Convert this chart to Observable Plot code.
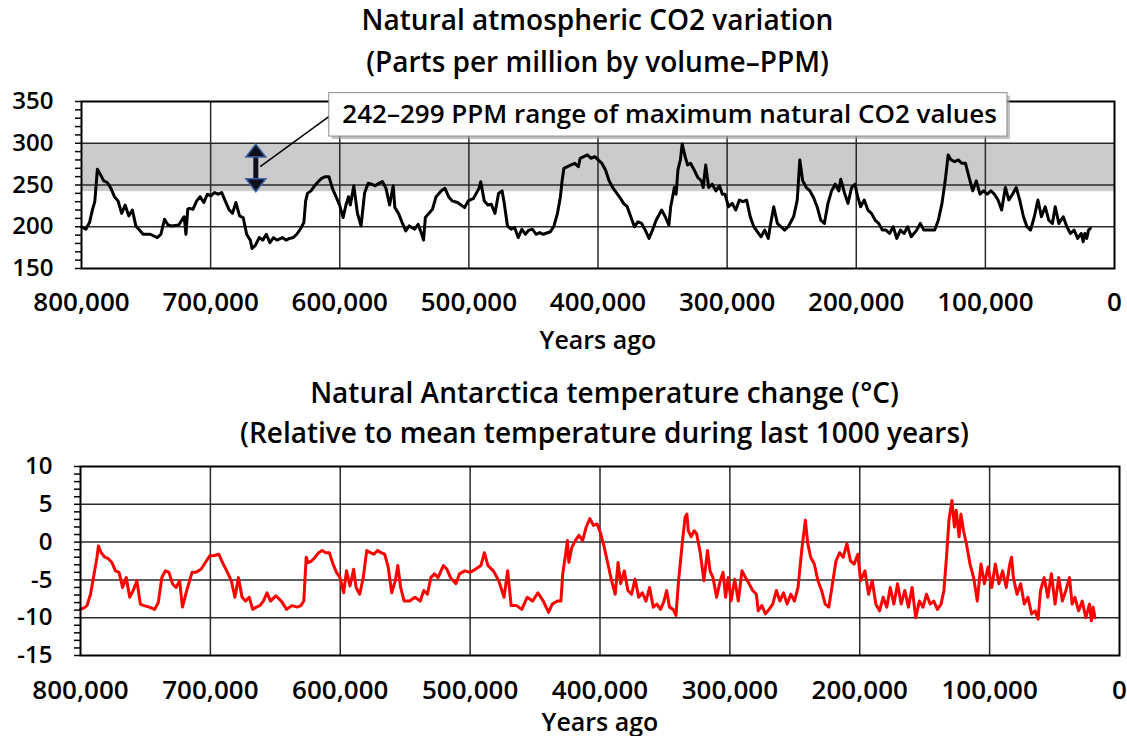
<!DOCTYPE html>
<html>
<head>
<meta charset="utf-8">
<script src="https://cdn.jsdelivr.net/npm/d3@7"></script>
<script src="https://cdn.jsdelivr.net/npm/@observablehq/plot@0.6"></script>
<style>
  html, body { margin: 0; padding: 0; background: #fff; }
  body { width: 1127px; height: 736px; position: relative; overflow: hidden; font-family: "Open Sans", sans-serif; }
  .title { position: absolute; left: 0; width: 1127px; text-align: center; font-weight: 600; font-size: 28px; color: #000; box-sizing: border-box; }
  .chart { position: absolute; left: 0; }
</style>
</head>
<body>
<div class="title" id="t1" style="top:-2px; line-height:42px; padding-left:68px;">Natural atmospheric CO2 variation<br>(Parts per million by volume–PPM)</div>
<div class="chart" id="c1" style="top:85px;"></div>
<div class="title" id="t2" style="top:372px; line-height:40px; padding-left:82px;">Natural Antarctica temperature change (°C)<br>(Relative to mean temperature during last 1000 years)</div>
<div class="chart" id="c2" style="top:450px;"></div>
<script>
// ---------- data (years ago in thousands) ----------
const co2Kyr = [800,796.6,793.8,791.6,789.7,787.7,785.5,782.8,780,777.2,774.5,771.7,768.9,766.2,763.4,760.6,757.9,755.1,752.3,746.8,741.3,738.5,735.7,733,730.2,724.7,721.9,720.5,719.1,717.7,716.4,713.6,710.8,708.1,705.3,702.5,699.8,697,694.2,691.4,688.7,685.9,683.1,680.4,677.6,674.8,672.1,669.3,667.9,665.2,662.4,659.6,656.9,654.1,651.3,648.6,644.4,641.6,638.9,636.1,633.3,630.6,627.8,626.4,625,622.3,619.5,616.7,614,611.2,608.4,605.7,602.9,600.1,597.4,595.2,593.2,591.8,589.1,586.3,583.5,580.8,578,575.2,572.5,569.7,566.9,564.2,561.4,558.6,557.3,554.5,551.7,548.9,546.2,542,539.3,536.5,535.1,533.7,531,528.2,525.4,521.3,518.5,515.7,513,508.8,503.3,500.5,496.4,492.2,490.8,488.1,485.3,482.6,479.8,477,474.3,472.9,470.1,467.3,464.6,461.8,459,456.3,453.5,450.7,448,445.2,442.4,436.9,434.1,431.4,429.2,427.8,426.4,423.6,420.8,418,415.2,413.8,411,408.2,405.4,402.6,399.8,397,394.2,391.4,388.6,385.8,383,380.2,377.4,374.6,371.8,369,366.2,363.4,360.5,357.8,354.9,350.7,347.9,345.1,343.7,342.3,340.9,339.5,338.1,336.2,334.8,332.5,330.6,328.3,325.5,322.7,319.9,318.5,316.6,314.3,311.5,308.7,305.9,303.7,301.7,298.9,296.1,293.3,290.5,287.7,284.9,282.1,279.3,276.5,273.7,270.9,268.1,266.7,263.9,261.1,258.3,255.5,252.7,248.5,245.7,243.7,241.5,238.7,235.9,233.1,230.3,227.5,224.7,221.9,219.1,216.3,213.5,212,209.2,206.4,203.6,200.8,199.4,196.6,193.8,191,188.2,185.4,182.6,179.8,177,174.2,171.4,168.6,165.8,163,160.2,157.4,153.2,150.4,147.6,143.4,139.2,136.4,133.6,130.8,128.8,126.6,123.8,121,118.2,115.4,112.6,109.8,107,104.2,101.4,98.6,95.8,93,90.2,87.4,84.5,81.8,79,76.1,73.4,70.5,67.8,65,62.1,59.3,56.6,53.7,50.9,48.1,45.9,43.1,39.7,36.9,34.1,31.3,28.5,25.7,24.3,22.9,21.5,20.1,18.7];
const co2Ppm = [200,197,205,220,230,269,263,255,253,246,236,231,216,226,213,220,201,196,191,191,187,191,209,202,201,202,209,212,191,221,222,221,231,236,229,239,237,241,239,241,231,221,216,229,213,211,191,184,174,178,187,184,191,181,187,184,187,184,186,187,191,197,205,231,240,243,249,254,258,260,260,246,236,226,211,226,236,226,249,216,201,240,252,251,249,252,254,246,226,249,223,216,205,195,201,197,203,191,184,211,216,221,236,243,246,236,231,229,223,231,234,246,254,231,226,227,216,240,243,231,201,197,199,187,197,191,196,197,191,193,191,194,201,216,235,255,270,272,274,276,272,282,284,286,282,284,280,276,268,255,247,241,235,228,224,212,200,206,204,196,186,196,208,220,212,202,224,235,247,239,268,280,299,284,274,276,268,259,255,247,274,247,251,243,249,239,239,224,228,220,232,230,232,212,200,194,188,196,186,200,224,204,200,196,200,212,232,280,255,247,243,235,224,208,204,228,243,251,243,257,241,228,247,251,239,224,232,220,216,208,204,196,196,192,200,186,196,192,200,188,196,204,196,196,196,208,228,259,286,280,278,280,276,276,259,243,255,239,243,239,243,239,232,220,247,232,239,247,232,212,200,196,212,232,212,224,208,204,224,204,212,200,192,196,186,192,182,192,186,196,198];

const tempKyr = [800,797.2,795,792.3,789.5,787.3,786.2,784.1,781.3,778.6,775.8,773.1,770.3,767.6,764.8,762.1,759.4,756.6,753.9,751.1,747,742.9,740.1,737.4,734.6,731.9,729.2,726.4,723.7,721.5,718.2,714.1,711.3,707.2,703.1,700.3,697.6,693.5,690.7,688,683.9,681.1,678.4,675.6,672.9,670.1,667.4,664.6,661.9,659.2,656.4,653.7,649.6,645.4,641.3,637.2,633.1,630.3,628.1,626.2,624.8,622.1,619.4,616.6,613.9,611.1,608.4,605.6,602.9,600.2,597.4,595.2,592.5,589.7,587.8,585,582.3,579.6,576.8,574.1,571.3,568.6,565.8,563.1,560.4,557.6,555.7,553.5,550.8,546.6,542.5,538.4,535.7,532.9,530.2,527.4,524.7,520.6,517.8,515.1,510.9,508.2,504.1,500,495.9,491.7,489,486.3,482.1,478,473.9,471.1,468.4,464.3,460.2,456.1,451.9,447.8,443.7,439.6,436.8,432.7,430.1,428.7,426.8,425.1,424,421.7,419,416.2,413.4,410.6,407.8,405,402.2,399.4,396.7,393.9,391.1,388.3,386.1,384.1,381.3,378.5,375.7,373,370.2,367.4,364.6,361.8,359,356.2,353.4,350.7,348.7,346.5,343.7,341.5,339.5,336.7,334.5,333.1,332,329.8,327.5,325.6,322.8,320,317.2,315.3,313,310.2,307.4,305.2,303.3,301.3,299.1,296.3,293.5,290.7,287.9,285.2,282.4,279.6,278.2,275.4,272.6,269.8,267,264.2,261.5,258.7,255.9,253.1,250.3,247.5,244.7,241.9,240,237.8,235,232.2,229.4,226.6,223.8,221,218.3,215.5,212.7,209.9,207.1,204.3,201.5,199.3,196,193.2,190.4,187.6,184.8,182,179.2,176.5,173.7,170.9,168.1,165.3,162.5,159.7,156.9,154.1,151.3,148.6,145.8,143,140.2,137.4,135.2,133.2,131.3,129,127.1,125.7,123.5,122.1,120.1,117.9,115.1,112.3,109.5,106.7,104,101.2,98.4,95.6,92.8,90,87.2,84.5,83.1,81.7,78.9,76.1,73.3,70.5,67.7,64.9,62.7,60.8,58,55.2,52.4,49.6,46.8,44,41.3,38.5,36.5,34.3,31.5,28.7,25.9,23.1,21.7,20.3,18.9];
const tempC = [-8.9,-8.7,-8.4,-6.9,-4.2,-2.0,-0.5,-1.4,-2.0,-2.2,-2.7,-3.8,-4.0,-6.0,-4.7,-7.3,-6.4,-5.1,-8.2,-8.4,-8.6,-8.9,-8.0,-4.7,-3.8,-4.0,-5.5,-6.0,-5.1,-8.6,-6.4,-4.0,-4.0,-3.6,-2.5,-1.8,-1.8,-1.6,-2.7,-3.6,-5.1,-7.3,-4.7,-7.3,-7.8,-7.3,-8.9,-8.6,-8.4,-7.8,-6.7,-7.8,-7.1,-7.8,-8.9,-8.4,-8.6,-8.4,-7.8,-2.0,-2.7,-2.5,-2.0,-1.4,-1.1,-1.4,-1.4,-2.9,-4.0,-4.7,-6.7,-3.8,-5.8,-3.6,-6.0,-6.9,-4.7,-1.1,-1.4,-1.6,-1.1,-1.4,-1.6,-3.3,-6.7,-5.1,-3.1,-6.0,-7.8,-7.8,-7.3,-7.8,-6.4,-6.9,-4.7,-4.2,-4.7,-3.1,-3.6,-4.7,-5.5,-4.2,-3.8,-4.0,-3.6,-3.1,-1.4,-3.1,-3.8,-5.1,-7.3,-3.8,-8.4,-8.4,-8.9,-7.3,-7.8,-6.7,-7.8,-9.3,-8.2,-7.8,-7.8,-4.2,-2.0,0.2,-2.7,-0.7,0.2,0.9,0.2,2.0,3.1,2.2,2.4,1.1,-0.7,-2.9,-5.1,-6.9,-2.7,-5.5,-3.8,-6.4,-6.9,-4.9,-7.3,-6.7,-7.8,-6.0,-8.6,-8.2,-8.9,-7.8,-6.4,-8.6,-8.9,-9.7,-5.1,-0.2,3.3,3.7,1.5,0.7,1.5,1.1,-1.4,-5.1,-1.1,-3.8,-4.7,-7.3,-5.1,-4.0,-7.3,-4.7,-7.8,-4.9,-7.8,-3.8,-4.7,-5.5,-6.4,-6.9,-9.1,-8.4,-9.5,-8.9,-8.2,-6.4,-7.8,-6.7,-8.2,-6.9,-7.8,-6.0,-1.1,2.9,-0.2,-2.0,-2.9,-5.1,-6.4,-8.2,-8.6,-5.5,-2.5,-1.4,-2.0,-0.2,-2.5,-2.9,-1.6,-5.1,-3.8,-6.9,-5.1,-8.2,-9.1,-7.3,-8.6,-6.0,-8.2,-5.5,-8.2,-6.4,-8.6,-6.0,-10.0,-7.8,-8.6,-6.9,-8.2,-7.8,-8.9,-8.2,-6.4,-2.0,2.9,5.5,2.0,4.2,0.7,3.7,1.5,-0.2,-2.9,-4.7,-7.8,-2.9,-5.5,-3.3,-6.0,-2.9,-5.5,-3.8,-6.0,-2.9,-2.0,-4.7,-6.9,-5.5,-8.2,-7.3,-9.5,-9.1,-10.2,-6.4,-4.7,-7.3,-4.2,-8.2,-4.7,-7.8,-6.4,-4.7,-8.2,-7.3,-9.1,-7.8,-10.0,-8.2,-10.4,-8.6,-10.0];

const xTicks = [800000,700000,600000,500000,400000,300000,200000,100000,0];
const co2Ticks = [150,200,250,300,350];
const tempTicks = [10,5,0,-5,-10,-15];
const bandRange = [242, 299];
const noteText = "242–299 PPM range of maximum natural CO2 values";
const axisTitle = "Years ago";

const co2Data = co2Kyr.map((k, i) => ({year: k * 1000, ppm: co2Ppm[i]}));
const tempData = tempKyr.map((k, i) => ({year: k * 1000, t: tempC[i]}));

const font = {fontFamily: "'Open Sans', sans-serif", fontSize: "24px", fontWeight: "600", color: "#000", background: "#fff", overflow: "visible"};
const fmt = d3.format(",");
const gridColor = "#2a2a2a";

// arrowhead symbols (tip at origin)
const headUp = {draw(ctx) { ctx.moveTo(0, 0); ctx.lineTo(10, 13); ctx.lineTo(-10, 13); ctx.closePath(); }};
const headDown = {draw(ctx) { ctx.moveTo(0, 0); ctx.lineTo(10, -13); ctx.lineTo(-10, -13); ctx.closePath(); }};

// ---------- CO2 chart ----------
const arrowYear = 665000;
const c1 = Plot.plot({
  width: 1127, height: 275,
  marginLeft: 81, marginRight: 13, marginTop: 16, marginBottom: 92,
  style: font,
  x: {domain: [800000, 0], axis: null},
  y: {domain: [150, 350], axis: null},
  marks: [
    Plot.rect([bandRange], {x1: 800000, x2: 0, y1: d => d[0], y2: d => d[1], fill: "#cbcbcb"}),
    Plot.ruleY(co2Ticks.slice(1, -1), {stroke: gridColor, strokeWidth: 1.5}),
    Plot.ruleX(xTicks.slice(1, -1), {stroke: gridColor, strokeWidth: 1.5}),
    Plot.line(co2Data, {x: "year", y: "ppm", stroke: "#000", strokeWidth: 3, strokeLinejoin: "round"}),
    Plot.frame({stroke: "#000", strokeWidth: 2}),
    Plot.axisY({ticks: d3.range(150, 351, 10), tickSize: 6, tickFormat: () => "", stroke: "#000", strokeWidth: 1.5, label: null}),
    Plot.axisY({ticks: co2Ticks, tickSize: 0, tickPadding: 28, tickFormat: d => String(d), fontSize: 24, label: null}),
    Plot.axisX({ticks: xTicks, tickSize: 0, tickPadding: 24, tickFormat: fmt, fontSize: 26, label: null}),
    Plot.text([axisTitle], {frameAnchor: "bottom", dy: 72, lineAnchor: "middle", text: d => d, fontSize: 25, fontWeight: 600}),
    // annotation: double arrow + callout box
    Plot.ruleX([arrowYear], {y1: 247, y2: 294, stroke: "#10101c", strokeWidth: 5}),
    Plot.dot([bandRange[1]], {x: arrowYear, y: d => d, symbol: headUp, r: 5, fill: "#10101c", stroke: "#3f63a8", strokeWidth: 1.5}),
    Plot.dot([bandRange[0]], {x: arrowYear, y: d => d, symbol: headDown, r: 5, fill: "#10101c", stroke: "#3f63a8", strokeWidth: 1.5}),
    Plot.link([0], {x1: 661600, y1: 272, x2: 607400, y2: 333, stroke: "#000", strokeWidth: 1.5}),
    Plot.rect([0], {x1: 608100, x2: 82900, y1: 308, y2: 360, fill: "#9a9a9a", fillOpacity: 0.6, dx: 3, dy: 3}),
    Plot.rect([0], {x1: 608100, x2: 82900, y1: 308, y2: 360, fill: "#fff", stroke: "#8c8c8c", strokeWidth: 1}),
    Plot.text([noteText], {x: 598000, y: 334.6, text: d => d, textAnchor: "start", fontSize: 26, fontWeight: 600})
  ]
});
document.getElementById("c1").appendChild(c1);

// ---------- Temperature chart ----------
const c2 = Plot.plot({
  width: 1127, height: 286,
  marginLeft: 80, marginRight: 8, marginTop: 16, marginBottom: 81,
  style: font,
  x: {domain: [800000, 0], axis: null},
  y: {domain: [-15, 10], axis: null},
  marks: [
    Plot.ruleY(tempTicks.slice(1, -1), {stroke: gridColor, strokeWidth: 1.5}),
    Plot.ruleX(xTicks.slice(1, -1), {stroke: gridColor, strokeWidth: 1.5}),
    Plot.line(tempData, {x: "year", y: "t", stroke: "#ff0000", strokeWidth: 3, strokeLinejoin: "round"}),
    Plot.frame({stroke: "#000", strokeWidth: 2}),
    Plot.axisY({ticks: d3.range(-15, 11, 1), tickSize: 6, tickFormat: () => "", stroke: "#000", strokeWidth: 1.5, label: null}),
    Plot.axisY({ticks: tempTicks, tickSize: 0, tickPadding: 28, tickFormat: d => String(d), fontSize: 24, label: null}),
    Plot.axisX({ticks: xTicks, tickSize: 0, tickPadding: 25, tickFormat: fmt, fontSize: 26, label: null}),
    Plot.text([axisTitle], {frameAnchor: "bottom", dy: 67, lineAnchor: "middle", text: d => d, fontSize: 25, fontWeight: 600})
  ]
});
document.getElementById("c2").appendChild(c2);
</script>
</body>
</html>
